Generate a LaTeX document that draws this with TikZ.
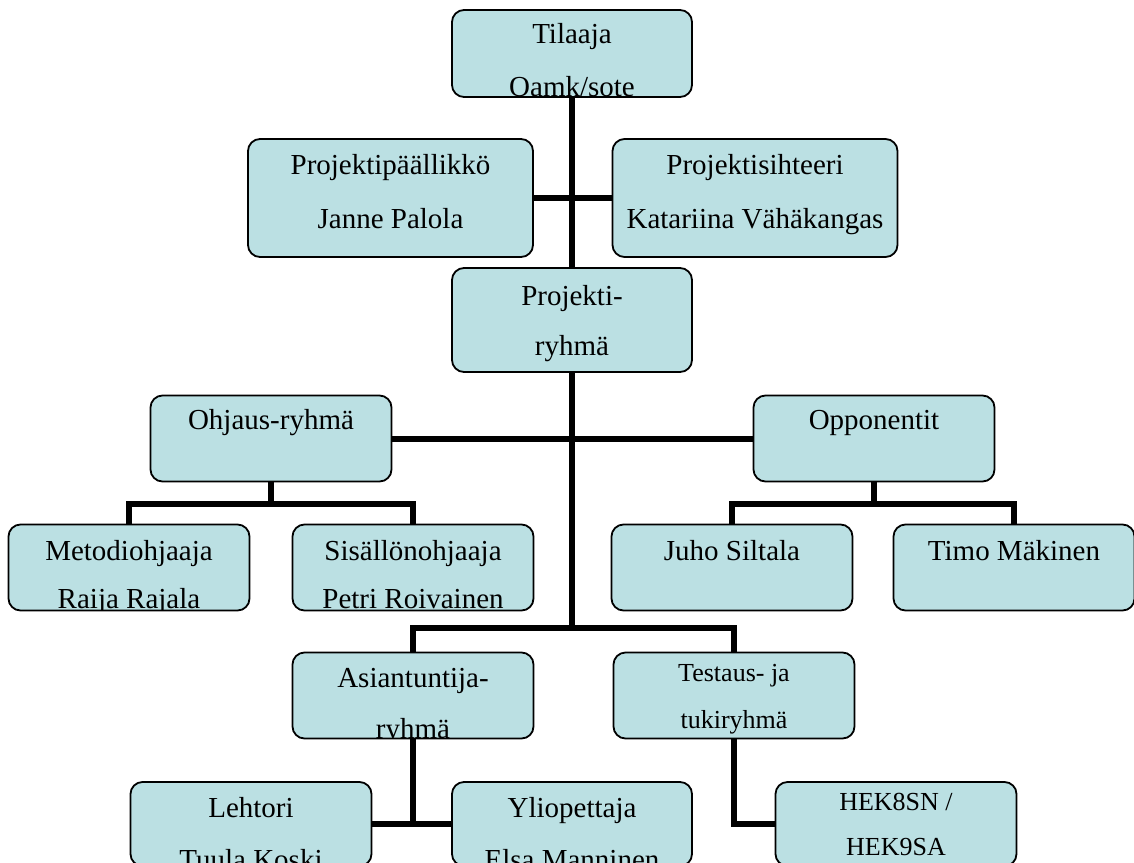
\documentclass[tikz,border=0pt]{standalone}
\usepackage{fontspec}
\setmainfont{Liberation Serif}
\usetikzlibrary{backgrounds}

\definecolor{boxblue}{RGB}{187,224,227}
\newcommand{\orgsmall}{\fontsize{26pt}{30pt}\selectfont}

\tikzset{
  orgbox/.style={draw=black, line width=1.8pt, rounded corners=12pt, fill=boxblue,
    minimum width=241pt, minimum height=86pt, inner sep=0pt},
  % two text lines, clipped by the box: line 1, line 2, baselines below the top
  txt/.style n args={4}{path picture={
      \node[anchor=base] at ([yshift=-#3]path picture bounding box.north) {#1};
      \node[anchor=base] at ([yshift=-#4]path picture bounding box.north) {#2};}},
  conn/.style={line width=6pt}
}

\begin{document}
\begin{tikzpicture}[x=1pt, y=-1pt, font=\fontsize{29pt}{34pt}\selectfont]
  \useasboundingbox (0,0) rectangle (1134,862);
  \clip (0,0) rectangle (1134,862);

  % top of the chart
  \node[orgbox, minimum width=240pt, minimum height=87pt, txt={Tilaaja}{Oamk/sote}{33pt}{86pt}] (tilaaja) at (572,53.5) {};
  \node[orgbox, minimum width=285pt, minimum height=118pt, txt={Projektipäällikkö}{Janne Palola}{35pt}{89pt}] (paallikko) at (390.5,198) {};
  \node[orgbox, minimum width=285pt, minimum height=118pt, txt={Projektisihteeri}{Katariina Vähäkangas}{35pt}{89pt}] (sihteeri) at (755,198) {};
  \node[orgbox, minimum width=240pt, minimum height=104pt, txt={Projekti-}{ryhmä}{37pt}{87pt}] (ryhma) at (572,320) {};

  % groups
  \node[orgbox, txt={Ohjaus-ryhmä}{}{34pt}{0pt}] (ohjaus) at (271,438.5) {};
  \node[orgbox, txt={Opponentit}{}{34pt}{0pt}] (opponentit) at (874,438.5) {};
  \node[orgbox, txt={Metodiohjaaja}{Raija Rajala}{36pt}{84pt}] (metodi) at (129,567.5) {};
  \node[orgbox, txt={Sisällönohjaaja}{Petri Roivainen}{36pt}{84pt}] (sisalto) at (413,567.5) {};
  \node[orgbox, txt={Juho Siltala}{}{36pt}{0pt}] (juho) at (732,567.5) {};
  \node[orgbox, txt={Timo Mäkinen}{}{36pt}{0pt}] (timo) at (1014,567.5) {};
  \node[orgbox, txt={Asiantuntija-}{ryhmä}{35pt}{86pt}] (asiantuntija) at (413,695.5) {};
  \node[orgbox, txt={\orgsmall Testaus- ja}{\orgsmall tukiryhmä}{29pt}{76pt}] (testaus) at (734,695.5) {};

  % bottom row, cut by the page
  \node[orgbox, minimum height=84pt, txt={Lehtori}{Tuula Koski}{35pt}{87pt}] (lehtori) at (251,824) {};
  \node[orgbox, minimum width=240pt, minimum height=84pt, txt={Yliopettaja}{Elsa Manninen}{35pt}{87pt}] (yliopettaja) at (572,824) {};
  \node[orgbox, minimum height=84pt, txt={\orgsmall HEK8SN /}{\orgsmall HEK9SA}{28pt}{73pt}] (hek) at (896,824) {};

  \begin{scope}[on background layer]
    \coordinate (branch) at (572,628);
    \coordinate (ojoin) at (271,504);
    \coordinate (pjoin) at (874,504);
    \draw[conn] (tilaaja.south) -- (branch);
    \draw[conn] (paallikko.east) -- (sihteeri.west);
    \draw[conn] (ohjaus.east) -- (opponentit.west);
    \draw[conn] (ohjaus.south) -- (ojoin);
    \draw[conn] (metodi.north) |- (ojoin) -| (sisalto.north);
    \draw[conn] (opponentit.south) -- (pjoin);
    \draw[conn] (juho.north) |- (pjoin) -| (timo.north);
    \draw[conn] (asiantuntija.north) |- (branch) -| (testaus.north);
    \draw[conn] (asiantuntija.south) -- (asiantuntija.south |- lehtori.east);
    \draw[conn] (lehtori.east) -- (yliopettaja.west);
    \draw[conn] (testaus.south) |- (hek.west);
  \end{scope}
\end{tikzpicture}
\end{document}
